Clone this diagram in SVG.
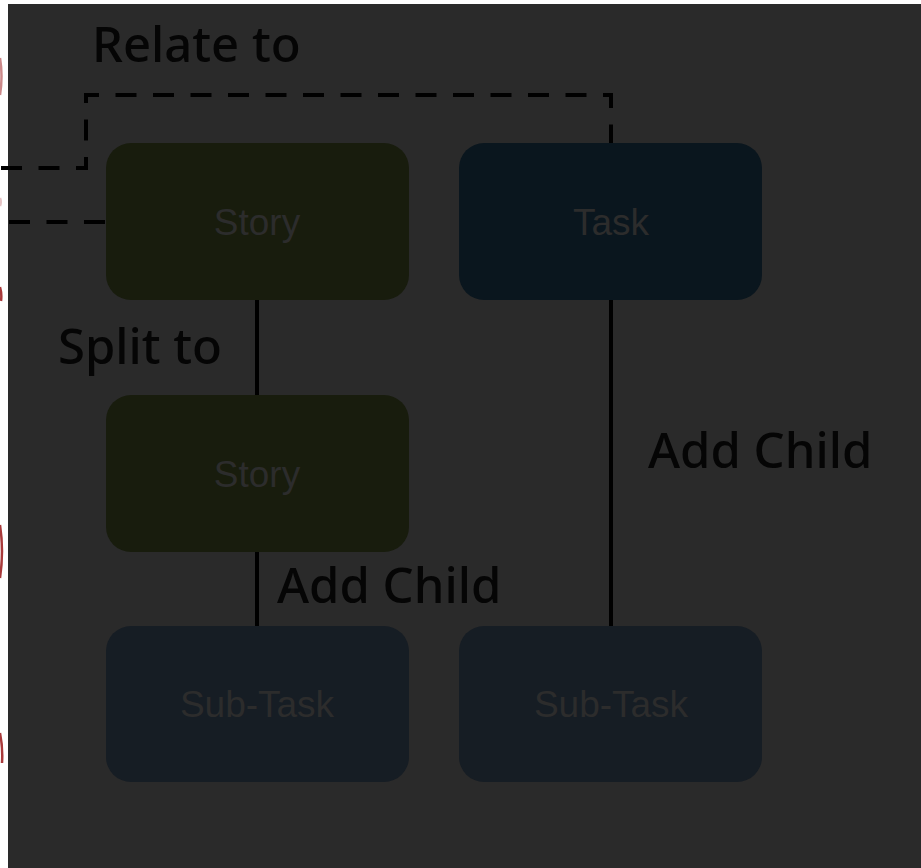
<svg xmlns="http://www.w3.org/2000/svg" width="921" height="868" viewBox="0 0 921 868">
<style>
.node rect{rx:25px;ry:25px}
.story{fill:#181c0d}
.task{fill:#0a161e}
.sub{fill:#161d24}
.ntext{font-family:"Liberation Sans",Arial,sans-serif;font-size:37px;fill:#2c2c2c;text-anchor:middle}
.lbl{font-family:"Noto Sans","Open Sans",sans-serif;font-size:49px;font-weight:500;fill:#050505}
.solid{stroke:#000;stroke-width:4;fill:none}
.dash{stroke:#000;stroke-width:4;fill:none;stroke-dasharray:21 16.5}
.red{stroke:#a8393a;stroke-width:2.5;fill:none}
</style>
<rect x="0" y="0" width="921" height="868" fill="#ffffff"/>
<rect x="8" y="4" width="913" height="864" fill="#2a2a2a"/>
<g id="edge-marks">
<path class="red" d="M0,58 Q3,76 0,95" opacity="0.6"/>
<path class="red" d="M0,198 Q1.5,202 0,206" opacity="0.3"/>
<path class="red" d="M0,287 Q2,294 1,301"/>
<path class="red" d="M0,525 Q4,551 0,578"/>
<path class="red" d="M0,733 Q3,748 2,763"/>
</g>
<g id="connectors">
<path class="dash" d="M1,168 H86 V95 H611 V143"/>
<path class="dash" d="M9,222 H106"/>
<path class="solid" d="M257,300 V395"/>
<path class="solid" d="M257,552 V626"/>
<path class="solid" d="M611,300 V626"/>
</g>
<g id="labels">
<text class="lbl" x="92" y="62">Relate to</text>
<text class="lbl" x="58" y="364">Split to</text>
<text class="lbl" x="277" y="603">Add Child</text>
<text class="lbl" x="648" y="468">Add Child</text>
</g>
<g id="node-story1" class="node">
<rect class="story" x="106" y="143" width="303" height="157"/>
<text class="ntext" x="257" y="235">Story</text>
</g>
<g id="node-task" class="node">
<rect class="task" x="459" y="143" width="303" height="157"/>
<text class="ntext" x="611" y="235">Task</text>
</g>
<g id="node-story2" class="node">
<rect class="story" x="106" y="395" width="303" height="157"/>
<text class="ntext" x="257" y="487">Story</text>
</g>
<g id="node-subtask1" class="node">
<rect class="sub" x="106" y="626" width="303" height="156"/>
<text class="ntext" x="257" y="717">Sub-Task</text>
</g>
<g id="node-subtask2" class="node">
<rect class="sub" x="459" y="626" width="303" height="156"/>
<text class="ntext" x="611" y="717">Sub-Task</text>
</g>
</svg>
